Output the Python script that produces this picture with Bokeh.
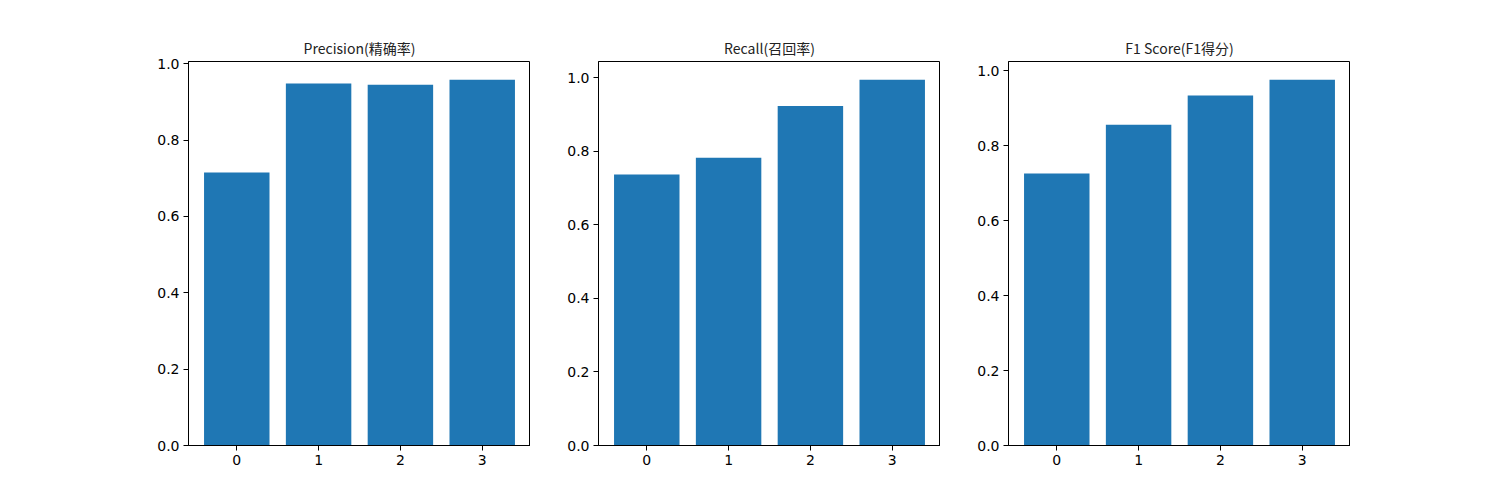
from bokeh.plotting import figure
from bokeh.layouts import row
from bokeh.models import Range1d, FixedTicker, PrintfTickFormatter, ColumnDataSource
from bokeh.embed import file_html
from bokeh.resources import INLINE

classes = [0, 1, 2, 3]
precision = [0.715, 0.948, 0.945, 0.958]
recall = [0.737, 0.783, 0.924, 0.995]
f1 = [0.726, 0.856, 0.934, 0.976]
titles = ["Precision(精确率)", "Recall(召回率)", "F1 Score(F1得分)"]
series = [precision, recall, f1]
x_ticks = [0, 1, 2, 3]
y_ticks = [0.0, 0.2, 0.4, 0.6, 0.8, 1.0]

BAR = "#1f77b4"
FRAME_W = 342
FRAME_H = 384
TOP = 61
BOTTOM = 45

figs = []
for i, (t, vals) in enumerate(zip(titles, series)):
    left = 188 if i == 0 else 68
    p = figure(width=left + FRAME_W, height=TOP + FRAME_H + BOTTOM,
               output_backend="svg", toolbar_location=None,
               x_range=Range1d(-0.59, 3.59), y_range=Range1d(0, max(vals) * 1.05),
               min_border_left=left, min_border_right=0,
               min_border_top=TOP, min_border_bottom=BOTTOM, title=t)
    src = ColumnDataSource(dict(x=classes, top=vals))
    p.vbar(x="x", top="top", width=0.8, bottom=0, source=src, color=BAR, line_color=None)
    p.title.align = "center"
    p.title.text_font = "Noto Sans CJK SC"
    p.title.text_font_size = "14px"
    p.title.text_font_style = "normal"
    p.title.text_color = "#222222"
    p.title.standoff = 7
    p.xgrid.visible = False
    p.ygrid.visible = False
    p.outline_line_color = "black"
    p.outline_line_width = 1
    p.outline_line_alpha = 1
    p.xaxis.ticker = FixedTicker(ticks=x_ticks)
    p.yaxis.ticker = FixedTicker(ticks=y_ticks)
    p.yaxis.formatter = PrintfTickFormatter(format="%.1f")
    for ax in (p.xaxis[0], p.yaxis[0]):
        ax.axis_line_color = "black"
        ax.major_tick_line_color = "black"
        ax.major_tick_out = 5
        ax.major_tick_in = 0
        ax.minor_tick_line_color = None
        ax.major_label_text_font = "DejaVu Sans"
        ax.major_label_text_font_size = "14px"
        ax.major_label_text_color = "black"
        ax.major_label_standoff = 4
    figs.append(p)

layout = row(*figs)
open("out.html", "w").write(file_html(layout, INLINE))
